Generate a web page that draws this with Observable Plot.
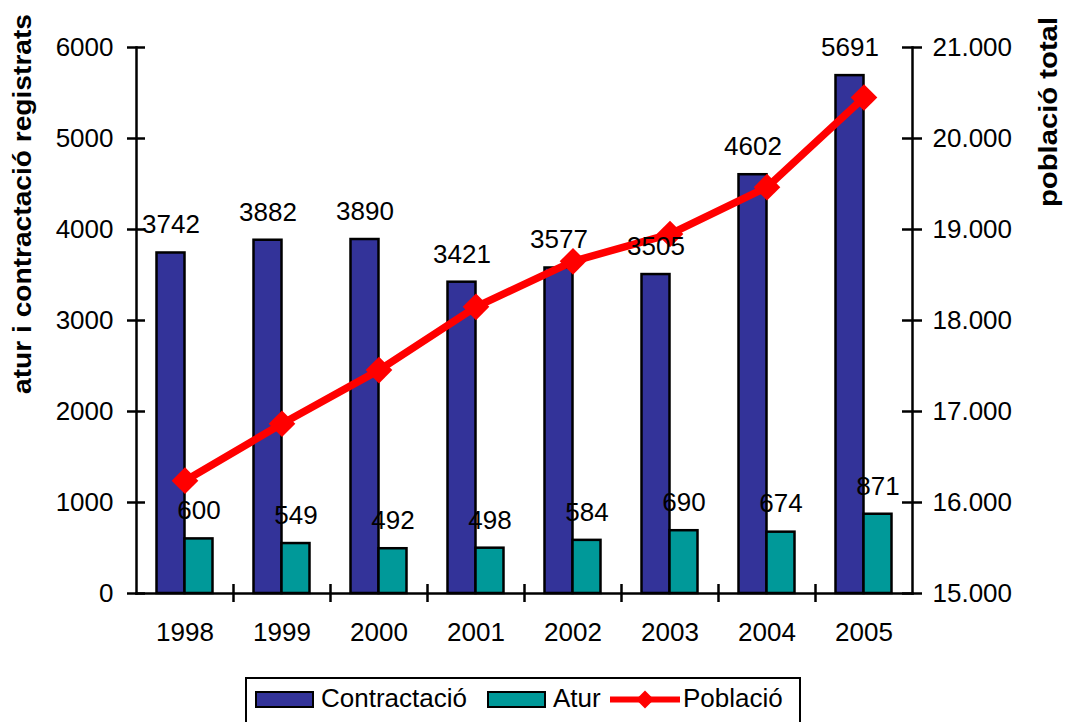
<!DOCTYPE html>
<html>
<head>
<meta charset="utf-8">
<script src="https://cdn.jsdelivr.net/npm/d3@7"></script>
<script src="https://cdn.jsdelivr.net/npm/@observablehq/plot@0.6"></script>
<style>
  html, body { margin: 0; padding: 0; background: #fff; }
  body { width: 1065px; height: 722px; overflow: hidden; position: relative; font-family: Arial, "Liberation Sans", sans-serif; }
  #chart { position: absolute; left: 0; top: 0; }
  #chart svg { overflow: visible; }
  #legend { position: absolute; left: 0; top: 670px; }
</style>
</head>
<body>
<div id="chart"></div>
<svg id="legend" width="1065" height="52"></svg>
<script>
const years = ["1998", "1999", "2000", "2001", "2002", "2003", "2004", "2005"];
const contractacio = [3742, 3882, 3890, 3421, 3577, 3505, 4602, 5691];
const atur = [600, 549, 492, 498, 584, 690, 674, 871];
const poblacio = [16240, 16865, 17455, 18150, 18650, 18950, 19465, 20450];
const leftTicks = [0, 1000, 2000, 3000, 4000, 5000, 6000];
const rightTicks = [15000, 16000, 17000, 18000, 19000, 20000, 21000];
const leftTitle = "atur i contractació registrats";
const rightTitle = "població total";
const seriesNames = ["Contractació", "Atur", "Població"];
const colors = ["#333399", "#009999", "#ff0000"];

const rows = years.map((year, i) => ({year, contractacio: contractacio[i], atur: atur[i], poblacio: poblacio[i]}));

const W = 1065, H = 670;
const mL = 136, mR = 153, mT = 47, mB = 77;
const innerW = W - mL - mR, innerH = H - mT - mB;
const bw = innerW / years.length;
const FONT = "Arial, 'Liberation Sans', sans-serif";

const lMin = leftTicks[0], lMax = leftTicks[leftTicks.length - 1];
const rMin = rightTicks[0], rMax = rightTicks[rightTicks.length - 1];
const toLeft = p => lMin + (p - rMin) * (lMax - lMin) / (rMax - rMin);
const toRight = v => rMin + (v - lMin) * (rMax - rMin) / (lMax - lMin);
const caFmt = d3.formatLocale({thousands: ".", decimal: ",", grouping: [3], currency: ["", " €"]}).format(",d");

const chart = Plot.plot({
  width: W, height: H,
  marginLeft: mL, marginRight: mR, marginTop: mT, marginBottom: mB,
  style: {fontFamily: FONT, fontSize: "26px", color: "#000", background: "#fff"},
  x: {type: "band", domain: years, padding: 0, label: null},
  y: {domain: [lMin, lMax], label: null},
  marks: [
    Plot.barY(rows, {x: "year", y: "contractacio", fill: colors[0], stroke: "#000", strokeWidth: 2.5, insetLeft: 20.5, insetRight: bw - 48.5}),
    Plot.barY(rows, {x: "year", y: "atur", fill: colors[1], stroke: "#000", strokeWidth: 2.5, insetLeft: 48.5, insetRight: bw - 76.5}),
    Plot.frame({anchor: "left", stroke: "#000", strokeWidth: 2.5}),
    Plot.frame({anchor: "right", stroke: "#000", strokeWidth: 2.5}),
    Plot.frame({anchor: "bottom", stroke: "#000", strokeWidth: 2.5}),
    Plot.ruleY(leftTicks, {y: d => d, insetLeft: -9, insetRight: innerW - 9, stroke: "#000", strokeWidth: 2.5}),
    Plot.ruleY(leftTicks, {y: d => d, insetLeft: innerW - 10, insetRight: -10, stroke: "#000", strokeWidth: 2.5}),
    Plot.ruleX(years.slice(1), {x: d => d, dx: -bw / 2, insetTop: innerH - 9, insetBottom: -9, stroke: "#000", strokeWidth: 2.5}),
    Plot.axisX({tickSize: 0, tickPadding: 29, label: null, fontSize: 26}),
    Plot.axisY({anchor: "left", ticks: leftTicks, tickSize: 0, tickPadding: 23, label: null, fontSize: 26, tickFormat: d => String(d)}),
    Plot.axisY({anchor: "right", ticks: leftTicks, tickSize: 0, tickPadding: 20, label: null, fontSize: 26, tickFormat: d => caFmt(toRight(d))}),
    Plot.line(rows, {x: "year", y: d => toLeft(d.poblacio), stroke: colors[2], strokeWidth: 7.5}),
    Plot.dot(rows, {x: "year", y: d => toLeft(d.poblacio), symbol: "diamond2", r: 12, fill: colors[2], stroke: null}),
    Plot.text(rows, {x: "year", y: "contractacio", text: d => String(d.contractacio), dx: -14, dy: -28, fontSize: 26}),
    Plot.text(rows, {x: "year", y: "atur", text: d => String(d.atur), dx: 14, dy: -28, fontSize: 26})
  ]
});
document.getElementById("chart").appendChild(chart);

// Axis titles (rotated, bold)
const svg = d3.select(chart);
svg.append("text")
  .attr("transform", "translate(31,204) rotate(-90)")
  .attr("text-anchor", "middle")
  .attr("font-family", FONT).attr("font-size", 25).attr("font-weight", "bold").attr("fill", "#000")
  .attr("textLength", 380).attr("lengthAdjust", "spacingAndGlyphs")
  .text(leftTitle);
svg.append("text")
  .attr("transform", "translate(1057,112) rotate(-90)")
  .attr("text-anchor", "middle")
  .attr("font-family", FONT).attr("font-size", 25).attr("font-weight", "bold").attr("fill", "#000")
  .attr("textLength", 190).attr("lengthAdjust", "spacingAndGlyphs")
  .text(rightTitle);

// Legend (below the plot)
const lg = d3.select("#legend");
const oy = 670;
lg.append("rect").attr("x", 246).attr("y", 678 - oy).attr("width", 554).attr("height", 60)
  .attr("fill", "#fff").attr("stroke", "#000").attr("stroke-width", 2);
const items = [
  {kind: "rect", sx: 256, tx: 321},
  {kind: "rect", sx: 488, tx: 553},
  {kind: "line", sx: 610, tx: 683}
];
seriesNames.forEach((name, i) => {
  const it = items[i];
  if (it.kind === "rect") {
    lg.append("rect").attr("x", it.sx).attr("y", 692 - oy).attr("width", 57).attr("height", 15)
      .attr("fill", colors[i]).attr("stroke", "#000").attr("stroke-width", 2);
  } else {
    lg.append("line").attr("x1", it.sx).attr("x2", it.sx + 70).attr("y1", 699.5 - oy).attr("y2", 699.5 - oy)
      .attr("stroke", colors[i]).attr("stroke-width", 6);
    const cx = it.sx + 35, cy = 699.5 - oy, r = 9;
    lg.append("path").attr("d", `M${cx},${cy - r}L${cx + r},${cy}L${cx},${cy + r}L${cx - r},${cy}Z`).attr("fill", colors[i]);
  }
  lg.append("text").attr("x", it.tx).attr("y", 707 - oy)
    .attr("font-family", FONT).attr("font-size", 26).attr("fill", "#000").text(name);
});
</script>
</body>
</html>
